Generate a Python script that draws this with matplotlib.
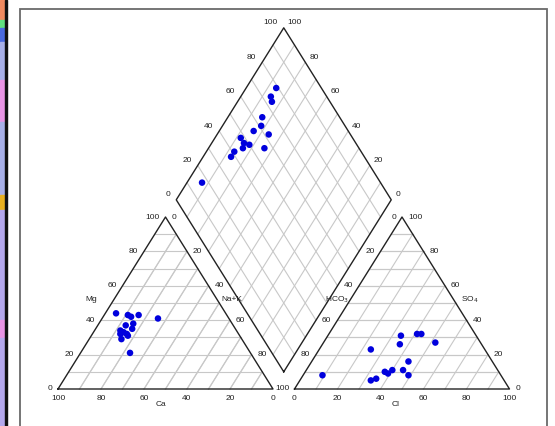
import numpy as np
import matplotlib
matplotlib.use("Agg")
import matplotlib.pyplot as plt
from matplotlib.patches import Rectangle

plt.rcParams['font.family'] = ['Liberation Sans', 'DejaVu Sans']

# cation triangle (percent)
cat_ca = [51, 46, 45, 41, 33, 46, 50, 48, 54, 53, 52, 55, 52, 56, 56]
cat_mg = [44, 43, 42, 43, 41, 38, 37, 35, 34, 33, 32, 32, 31, 29, 21]
cat_na = [5, 11, 13, 16, 26, 16, 13, 17, 12, 14, 16, 13, 17, 15, 23]

# anion triangle (percent)
an_hco3 = [35, 27, 25, 38, 21, 53, 39, 53, 52, 49, 44, 43, 59, 62, 83]
an_cl = [34, 41, 43, 36, 52, 24, 45, 37, 39, 40, 45, 49, 35, 33, 9]
an_so4 = [31, 32, 32, 26, 27, 23, 16, 10, 9, 11, 11, 8, 6, 5, 8]

# diamond: value read on upper-left edge and on upper-right edge
dia_left = [79, 74, 73, 64, 61, 56, 62, 48, 48, 50, 46, 56, 41, 38, 17]
dia_right = [86, 86, 84, 84, 82, 84, 76, 88, 85, 82, 84, 74, 87, 87, 93]

tick_vals = [0, 20, 40, 60, 80, 100]

H = np.sqrt(3) / 2
GAP = 10
GRID = '#c8c8c8'
EDGE = '#222222'
DOT = '#0000dd'
FS = 6


def left_xy(mg, na):
    mg = np.asarray(mg, float)
    na = np.asarray(na, float)
    return na + mg / 2, mg * H


def right_xy(cl, so4):
    cl = np.asarray(cl, float)
    so4 = np.asarray(so4, float)
    return 100 + GAP + cl + so4 / 2, so4 * H


def dia_xy(dl, dr):
    dl = np.asarray(dl, float)
    dr = np.asarray(dr, float)
    bx, by = 100 + GAP / 2, GAP * H
    return bx - dr / 2 + dl / 2, by + (dr + dl) * H


fig = plt.figure(figsize=(5.55, 4.26), dpi=100)
ax = fig.add_axes([0, 0, 1, 1])
ax.set_xlim(-58 / 2.15, (555 - 58) / 2.15)
ax.set_ylim(-(426 - 389) / 1.986, 389 / 1.986)
ax.axis('off')

# left strip (piece of another window)
strip = [(0, 20, '#f08a60'), (20, 28, '#60e080'), (28, 42, '#4a6ae0'),
         (42, 80, '#a8b0e8'), (80, 122, '#e894e4'), (122, 195, '#a8b0e8'),
         (195, 210, '#e8b020'), (210, 320, '#b4a8ec'), (320, 338, '#e894e4'),
         (338, 426, '#b4a8ec')]
for y0, y1, c in strip:
    fig.patches.append(Rectangle((0, 1 - y1 / 426), 5 / 555, (y1 - y0) / 426,
                                 transform=fig.transFigure, color=c, zorder=0))
fig.patches.append(Rectangle((5 / 555, 0), 1.5 / 555, 1, transform=fig.transFigure,
                             color='#111111', zorder=0))

# frame
fig.patches.append(Rectangle((20 / 555, -0.05), 527 / 555, 1.05 - 9 / 426,
                             transform=fig.transFigure, fill=False,
                             edgecolor='#6a6a6a', lw=1.3))

# grids
for i in range(10, 100, 10):
    # cation triangle
    for a, b in [((i, 0), (i, 100 - i)), ((0, i), (100 - i, i)),
                 ((i, 100 - i), (0, 100 - i))]:
        x, y = left_xy([a[0], b[0]], [a[1], b[1]])
        ax.plot(x, y, color=GRID, lw=0.8, zorder=1)
    # anion triangle
    for a, b in [((i, 0), (i, 100 - i)), ((0, i), (100 - i, i)),
                 ((i, 100 - i), (0, 100 - i))]:
        x, y = right_xy([a[0], b[0]], [a[1], b[1]])
        ax.plot(x, y, color=GRID, lw=0.8, zorder=1)
    # diamond
    x, y = dia_xy([i, i], [0, 100])
    ax.plot(x, y, color=GRID, lw=0.8, zorder=1)
    x, y = dia_xy([0, 100], [i, i])
    ax.plot(x, y, color=GRID, lw=0.8, zorder=1)

# outlines
x, y = left_xy([0, 0, 100, 0], [0, 100, 0, 0])
ax.plot(x, y, color=EDGE, lw=1.0, zorder=2)
x, y = right_xy([0, 100, 0, 0], [0, 0, 100, 0])
ax.plot(x, y, color=EDGE, lw=1.0, zorder=2)
x, y = dia_xy([0, 100, 100, 0, 0], [0, 0, 100, 100, 0])
ax.plot(x, y, color=EDGE, lw=1.0, zorder=2)


def lab(x, y, s, dx, dy, ha='center', va='center'):
    # offsets given in pixels
    ax.annotate(s, (x, y), xytext=(dx * 0.72, dy * 0.72), textcoords='offset points',
                ha=ha, va=va, fontsize=FS, color='#222222')


for v in tick_vals:
    # cation: Mg on left side, Na+K on right side, Ca on bottom
    x, y = left_xy(v, 0)
    lab(x, y, str(v), -6, 0, ha='right')
    if v != 100:
        x, y = left_xy(100 - v, v)
        lab(x, y, str(v), 6, 0, ha='left')
    x, y = left_xy(0, 100 - v)
    lab(x, y, str(v), 0, -10)
    # anion: HCO3 on left side, SO4 on right side, Cl on bottom
    if v != 100:
        x, y = right_xy(0, 100 - v)
        lab(x, y, str(v), -6, 0, ha='right')
    x, y = right_xy(100 - v, v)
    lab(x, y, str(v), 6, 0, ha='left')
    x, y = right_xy(v, 0)
    lab(x, y, str(v), 0, -10)
    # diamond upper edges
    x, y = dia_xy(v, 100)
    lab(x, y, str(v), -6, 5, ha='right')
    x, y = dia_xy(100, v)
    lab(x, y, str(v), 4, 5, ha='left')

# Na+K 100 and HCO3 100 fall on the same spot between the triangles
x, y = left_xy(0, 100)
lab(x, y, '100', 9, 0)

x, y = left_xy(52, 0)
lab(x, y, 'Mg', -23, 0)
x, y = left_xy(52, 48)
lab(x, y, 'Na+K', 15, 0)
x, y = left_xy(0, 48)
lab(x, y, 'Ca', 0, -15)
x, y = right_xy(0, 52)
lab(x, y, 'HCO$_3$', -13, 0)
x, y = right_xy(48, 52)
lab(x, y, 'SO$_4$', 16, 0)
x, y = right_xy(47, 0)
lab(x, y, 'Cl', 0, -15)

# samples
x, y = left_xy(cat_mg, cat_na)
ax.scatter(x, y, s=22, color=DOT, edgecolors='none', zorder=3)
x, y = right_xy(an_cl, an_so4)
ax.scatter(x, y, s=22, color=DOT, edgecolors='none', zorder=3)
x, y = dia_xy(dia_left, dia_right)
ax.scatter(x, y, s=22, color=DOT, edgecolors='none', zorder=3)

fig.savefig('out.png', dpi=100)
